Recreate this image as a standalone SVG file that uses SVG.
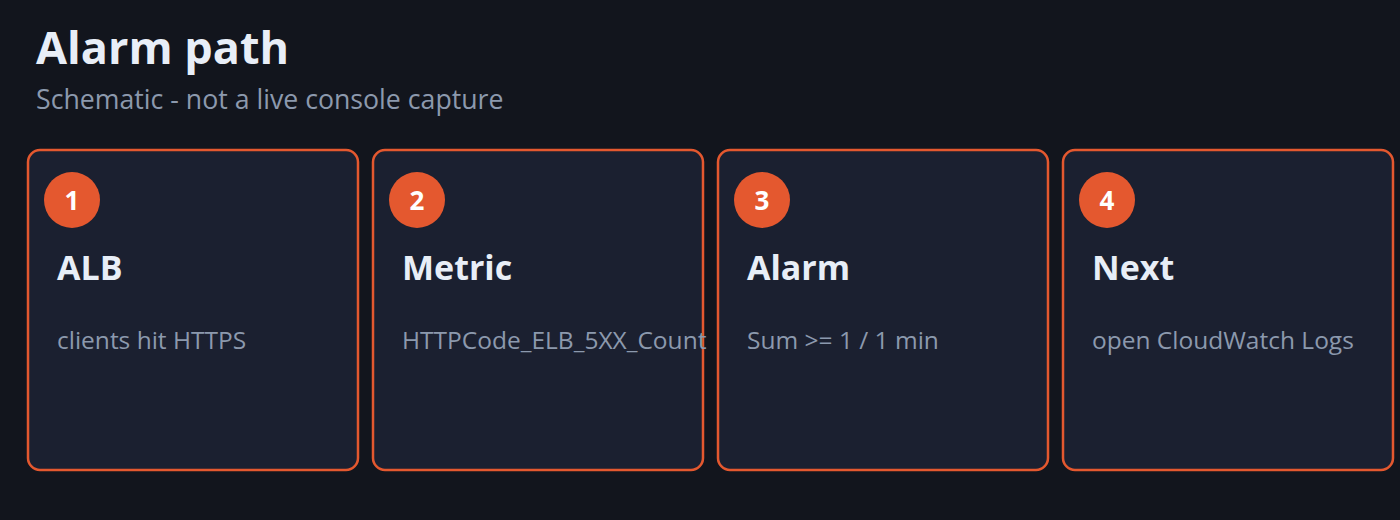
<svg xmlns="http://www.w3.org/2000/svg" width="1400" height="520" viewBox="0 0 1400 520">
<style>
.bg{fill:#12151d}
.card{fill:#1b2030;stroke:#e4582f;stroke-width:2.5}
.badge{fill:#e4582f}
.num{font-family:"Open Sans","Liberation Sans",sans-serif;font-weight:700;font-size:26px;fill:#ffffff;text-anchor:middle}
.h{font-family:"Open Sans","Liberation Sans",sans-serif;font-weight:700;font-size:34px;fill:#e8eef7}
.s{font-family:"Open Sans","Liberation Sans",sans-serif;font-size:24.5px;fill:#8c99ad}
.title{font-family:"Open Sans","Liberation Sans",sans-serif;font-weight:700;font-size:45px;fill:#e8eef7}
.sub{font-family:"Open Sans","Liberation Sans",sans-serif;font-size:26.7px;fill:#8c99ad}
</style>
<rect class="bg" x="0" y="0" width="1400" height="520"/>
<g id="header">
<text class="title" x="36" y="64">Alarm path</text>
<text class="sub" x="36" y="109">Schematic - not a live console capture</text>
</g>
<g id="node1">
<rect class="card" x="28" y="150" width="330" height="320" rx="12"/>
<circle class="badge" cx="72" cy="200" r="28"/>
<text class="num" x="72" y="209.5">1</text>
<text class="h" x="57" y="280">ALB</text>
<text class="s" x="57" y="349">clients hit HTTPS</text>
</g>
<g id="node2">
<rect class="card" x="373" y="150" width="330" height="320" rx="12"/>
<circle class="badge" cx="417" cy="200" r="28"/>
<text class="num" x="417" y="209.5">2</text>
<text class="h" x="402" y="280">Metric</text>
<text class="s" x="402" y="349">HTTPCode_ELB_5XX_Count</text>
</g>
<g id="node3">
<rect class="card" x="718" y="150" width="330" height="320" rx="12"/>
<circle class="badge" cx="762" cy="200" r="28"/>
<text class="num" x="762" y="209.5">3</text>
<text class="h" x="747" y="280">Alarm</text>
<text class="s" x="747" y="349">Sum &gt;= 1 / 1 min</text>
</g>
<g id="node4">
<rect class="card" x="1063" y="150" width="330" height="320" rx="12"/>
<circle class="badge" cx="1107" cy="200" r="28"/>
<text class="num" x="1107" y="209.5">4</text>
<text class="h" x="1092" y="280">Next</text>
<text class="s" x="1092" y="349">open CloudWatch Logs</text>
</g>
<g id="connectors"></g>
</svg>
